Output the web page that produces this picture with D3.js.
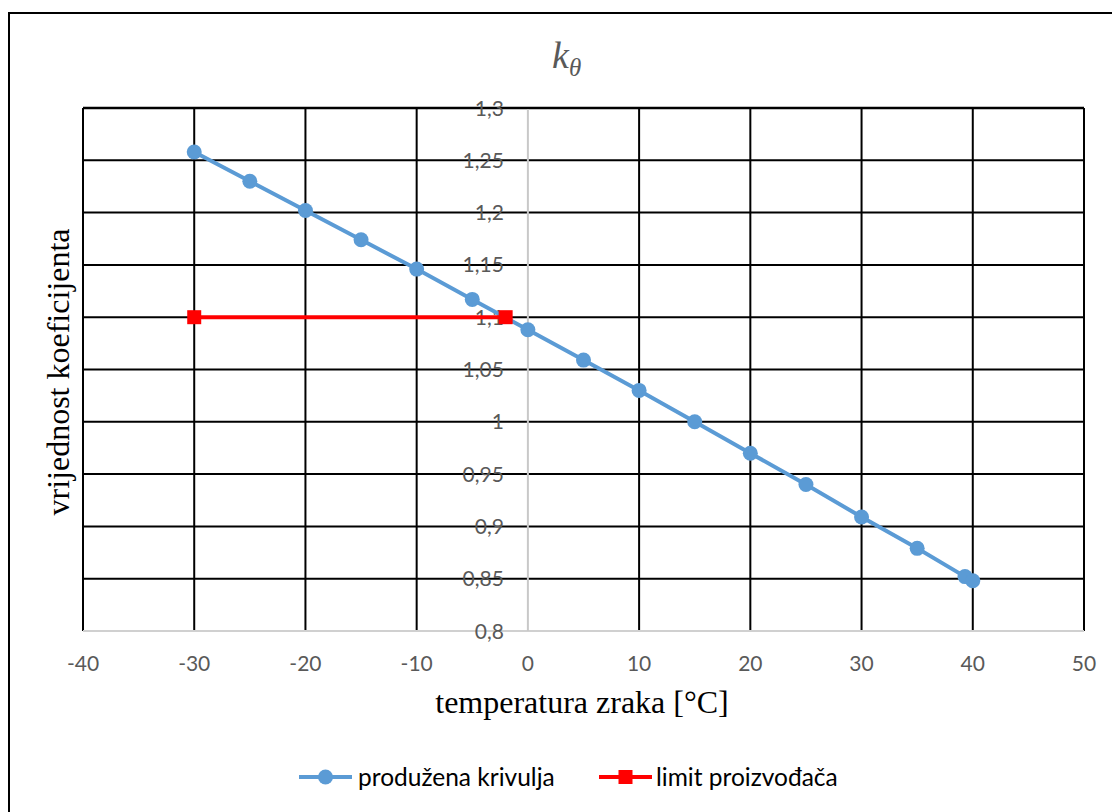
<!DOCTYPE html>
<html>
<head>
<meta charset="utf-8">
<script src="https://cdn.jsdelivr.net/npm/d3@7"></script>
<style>
  html, body { margin: 0; padding: 0; background: #fff; }
  svg { display: block; }
</style>
</head>
<body>
<svg id="chart" width="1112" height="812"></svg>
<script>
// ---- data ----
const curveTemps = [-30, -25, -20, -15, -10, -5, 0, 5, 10, 15, 20, 25, 30, 35, 39.3, 40];
const curveValues = [1.258, 1.230, 1.202, 1.174, 1.146, 1.117, 1.088, 1.059, 1.030, 1.000, 0.970, 0.940, 0.909, 0.879, 0.852, 0.848];
const limitTemps = [-30, -2];
const limitValues = [1.1, 1.1];
const xTicks = [-40, -30, -20, -10, 0, 10, 20, 30, 40, 50];
const yTicks = [0.8, 0.85, 0.9, 0.95, 1.0, 1.05, 1.1, 1.15, 1.2, 1.25, 1.3];
const seriesNames = ["produžena krivulja", "limit proizvođača"];
const seriesColors = ["#5B9BD5", "#FF0000"];

const svg = d3.select("#chart");
const x = d3.scaleLinear().domain([-40, 50]).range([83, 1084]);
const y = d3.scaleLinear().domain([0.8, 1.3]).range([631, 108]);

// outer frame
svg.append("rect").attr("x", 9).attr("y", 13).attr("width", 1120).attr("height", 820)
  .attr("fill", "none").attr("stroke", "#000").attr("stroke-width", 2);

// gridlines
const grid = svg.append("g");
grid.selectAll("line.h").data(yTicks.filter(d => d > 0.8)).join("line")
  .attr("x1", x(-40)).attr("x2", x(50))
  .attr("y1", d => y(d)).attr("y2", d => y(d))
  .attr("stroke", "#000").attr("stroke-width", d => d === 1.3 ? 2.5 : 2);
grid.selectAll("line.v").data(xTicks.filter(d => d !== 0)).join("line")
  .attr("x1", d => x(d)).attr("x2", d => x(d))
  .attr("y1", y(1.3)).attr("y2", y(0.8))
  .attr("stroke", "#000").attr("stroke-width", 2);

// axes lines (grey)
svg.append("line").attr("x1", x(-40)).attr("x2", x(50)).attr("y1", y(0.8)).attr("y2", y(0.8))
  .attr("stroke", "#d0d0d0").attr("stroke-width", 2);
svg.append("line").attr("x1", x(0)).attr("x2", x(0)).attr("y1", y(1.3) + 1).attr("y2", y(0.8))
  .attr("stroke", "#c8c8c8").attr("stroke-width", 2);

const fmt = d => String(+d.toFixed(2)).replace(".", ",");

// x tick labels
svg.append("g").selectAll("text").data(xTicks).join("text")
  .attr("x", d => x(d)).attr("y", 671)
  .attr("text-anchor", "middle")
  .attr("font-family", "Lato, 'Open Sans', sans-serif").attr("font-size", 21)
  .attr("fill", "#595959").text(d => d);

// y tick labels (next to the x=0 axis)
svg.append("g").selectAll("text").data(yTicks).join("text")
  .attr("x", x(0) - 24).attr("y", d => y(d)).attr("dy", "0.36em")
  .attr("text-anchor", "end")
  .attr("font-family", "Lato, 'Open Sans', sans-serif").attr("font-size", 21)
  .attr("fill", "#595959").text(fmt);

// series
const line = d3.line().x(d => x(d[0])).y(d => y(d[1]));
const curve = curveTemps.map((t, i) => [t, curveValues[i]]);
const limit = limitTemps.map((t, i) => [t, limitValues[i]]);

svg.append("path").datum(curve).attr("d", line)
  .attr("fill", "none").attr("stroke", seriesColors[0]).attr("stroke-width", 4);
svg.append("g").selectAll("circle").data(curve).join("circle")
  .attr("cx", d => x(d[0])).attr("cy", d => y(d[1])).attr("r", 7.5)
  .attr("fill", seriesColors[0]);

svg.append("path").datum(limit).attr("d", line)
  .attr("fill", "none").attr("stroke", seriesColors[1]).attr("stroke-width", 4);
svg.append("g").selectAll("rect").data(limit).join("rect")
  .attr("x", d => x(d[0]) - 7).attr("y", d => y(d[1]) - 7)
  .attr("width", 14).attr("height", 14)
  .attr("fill", seriesColors[1]);

// title
const title = svg.append("text").attr("x", 552).attr("y", 68)
  .attr("font-family", "'Liberation Serif', 'DejaVu Serif', serif")
  .attr("font-style", "italic").attr("fill", "#595959");
title.append("tspan").attr("font-size", 38).text("k");
title.append("tspan").attr("font-size", 25).attr("dy", 8).text("θ");

// axis titles
svg.append("text").attr("x", 582).attr("y", 713).attr("text-anchor", "middle")
  .attr("font-family", "'Liberation Serif', serif").attr("font-size", 32)
  .attr("fill", "#000").text("temperatura zraka [°C]");
svg.append("text").attr("transform", "translate(69,372) rotate(-90)").attr("text-anchor", "middle")
  .attr("font-family", "'Liberation Serif', serif").attr("font-size", 32)
  .attr("fill", "#000").text("vrijednost koeficijenta");

// legend
const leg = svg.append("g");
const legItems = [
  { x1: 299, x2: 352, tx: 358, shape: "circle" },
  { x1: 599, x2: 652, tx: 656, shape: "rect" }
];
legItems.forEach((it, i) => {
  const cy = 777;
  leg.append("line").attr("x1", it.x1).attr("x2", it.x2).attr("y1", cy).attr("y2", cy)
    .attr("stroke", seriesColors[i]).attr("stroke-width", 4);
  if (it.shape === "circle") {
    leg.append("circle").attr("cx", (it.x1 + it.x2) / 2).attr("cy", cy).attr("r", 7.5).attr("fill", seriesColors[i]);
  } else {
    leg.append("rect").attr("x", (it.x1 + it.x2) / 2 - 7).attr("y", cy - 7).attr("width", 14).attr("height", 14).attr("fill", seriesColors[i]);
  }
  leg.append("text").attr("x", it.tx).attr("y", cy).attr("dy", "0.35em")
    .attr("font-family", "Lato, 'Open Sans', sans-serif").attr("font-size", 24.5)
    .attr("fill", "#000").text(seriesNames[i]);
});
</script>
</body>
</html>
